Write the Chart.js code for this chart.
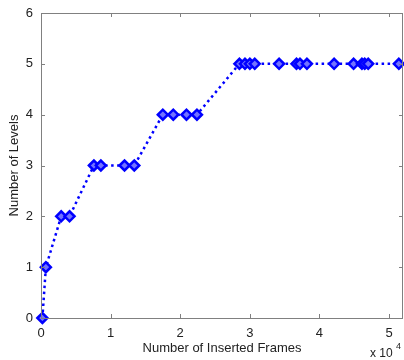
<!DOCTYPE html>
<html>
<head>
<meta charset="utf-8">
<script src="https://cdn.jsdelivr.net/npm/chart.js@4/dist/chart.umd.min.js"></script>
<style>
  html, body { margin: 0; padding: 0; background: #fff; }
  #wrap { width: 404px; height: 360px; }
</style>
</head>
<body>
<div id="wrap"><canvas id="levels"></canvas></div>
<script>
// inserted frames (raw count) and the level reached
let frames = [200, 700, 2900, 4100, 7600, 8600, 12000, 13400, 17500, 19000, 20900, 22400,
              28500, 29300, 30000, 30700, 34200, 36700, 37200, 38200, 42100, 44900, 46100, 46500, 47000, 51400];
let levels = [0, 1, 2, 2, 3, 3, 3, 3, 4, 4, 4, 4,
              5, 5, 5, 5, 5, 5, 5, 5, 5, 5, 5, 5, 5, 5];
let xTicks = [0, 10000, 20000, 30000, 40000, 50000];
let yTicks = [0, 1, 2, 3, 4, 5, 6];

let points = frames.map((f, i) => ({ x: f, y: levels[i] }));
let blue = '#0000ff';
let axisFont = { family: 'Liberation Sans, Arial, sans-serif', size: 13 };

// matlab style box with inward ticks on all four sides
let matlabBox = {
    id: 'matlabBox',
    afterDraw(chart) {
        let ctx = chart.ctx;
        let a = chart.chartArea;
        let xs = chart.scales.x, ys = chart.scales.y;
        ctx.save();
        ctx.strokeStyle = '#808080';
        ctx.lineWidth = 1;
        ctx.strokeRect(a.left + 0.5, a.top + 0.5, a.right - a.left - 1, a.bottom - a.top);
        ctx.beginPath();
        xTicks.forEach(v => {
            let px = Math.round(xs.getPixelForValue(v)) + 0.5;
            ctx.moveTo(px, a.bottom); ctx.lineTo(px, a.bottom - 4);
            ctx.moveTo(px, a.top); ctx.lineTo(px, a.top + 4);
        });
        yTicks.forEach(v => {
            let py = Math.round(ys.getPixelForValue(v)) + 0.5;
            ctx.moveTo(a.left, py); ctx.lineTo(a.left + 4, py);
            ctx.moveTo(a.right, py); ctx.lineTo(a.right - 4, py);
        });
        ctx.stroke();
        // exponent label
        ctx.fillStyle = '#222';
        ctx.font = '12px Liberation Sans, Arial, sans-serif';
        ctx.textBaseline = 'alphabetic';
        ctx.fillText('x 10', 370, 357);
        ctx.font = '9px Liberation Sans, Arial, sans-serif';
        ctx.fillText('4', 396, 349);
        ctx.restore();
    }
};

new Chart(document.getElementById('levels').getContext('2d'), {
    type: 'scatter',
    data: {
        datasets: [{
            data: points,
            showLine: true,
            borderColor: blue,
            borderWidth: 2.5,
            borderDash: [2.5, 3.5],
            pointStyle: 'rectRot',
            pointRadius: 5,
            pointBorderWidth: 2.5,
            pointBackgroundColor: '#7373ff',
            pointBorderColor: blue,
            clip: false
        }]
    },
    options: {
        responsive: true,
        maintainAspectRatio: false,
        animation: false,
        layout: { autoPadding: false, padding: { top: 13, right: 1, left: 2, bottom: 0 } },
        plugins: {
            legend: { display: false },
            tooltip: { enabled: false }
        },
        scales: {
            x: {
                type: 'linear',
                min: 0,
                max: 52000,
                afterBuildTicks: s => { s.ticks = xTicks.map(v => ({ value: v })); },
                afterFit: s => { s.height = 42; },
                grid: { display: false },
                border: { display: false },
                ticks: {
                    color: '#222',
                    font: axisFont,
                    padding: 0,
                    maxRotation: 0,
                    callback: v => String(v / 10000)
                },
                title: {
                    display: true,
                    text: 'Number of Inserted Frames',
                    color: '#222',
                    font: axisFont,
                    padding: { top: 2, bottom: 4 }
                }
            },
            y: {
                min: 0,
                max: 6,
                afterBuildTicks: s => { s.ticks = yTicks.map(v => ({ value: v })); },
                afterFit: s => { s.width = 39; },
                grid: { display: false },
                border: { display: false },
                ticks: { color: '#222', font: axisFont, padding: 0 },
                title: {
                    display: true,
                    text: 'Number of Levels',
                    color: '#222',
                    font: axisFont,
                    padding: { top: 5, bottom: 0 }
                }
            }
        }
    },
    plugins: [matlabBox]
});
</script>
</body>
</html>
